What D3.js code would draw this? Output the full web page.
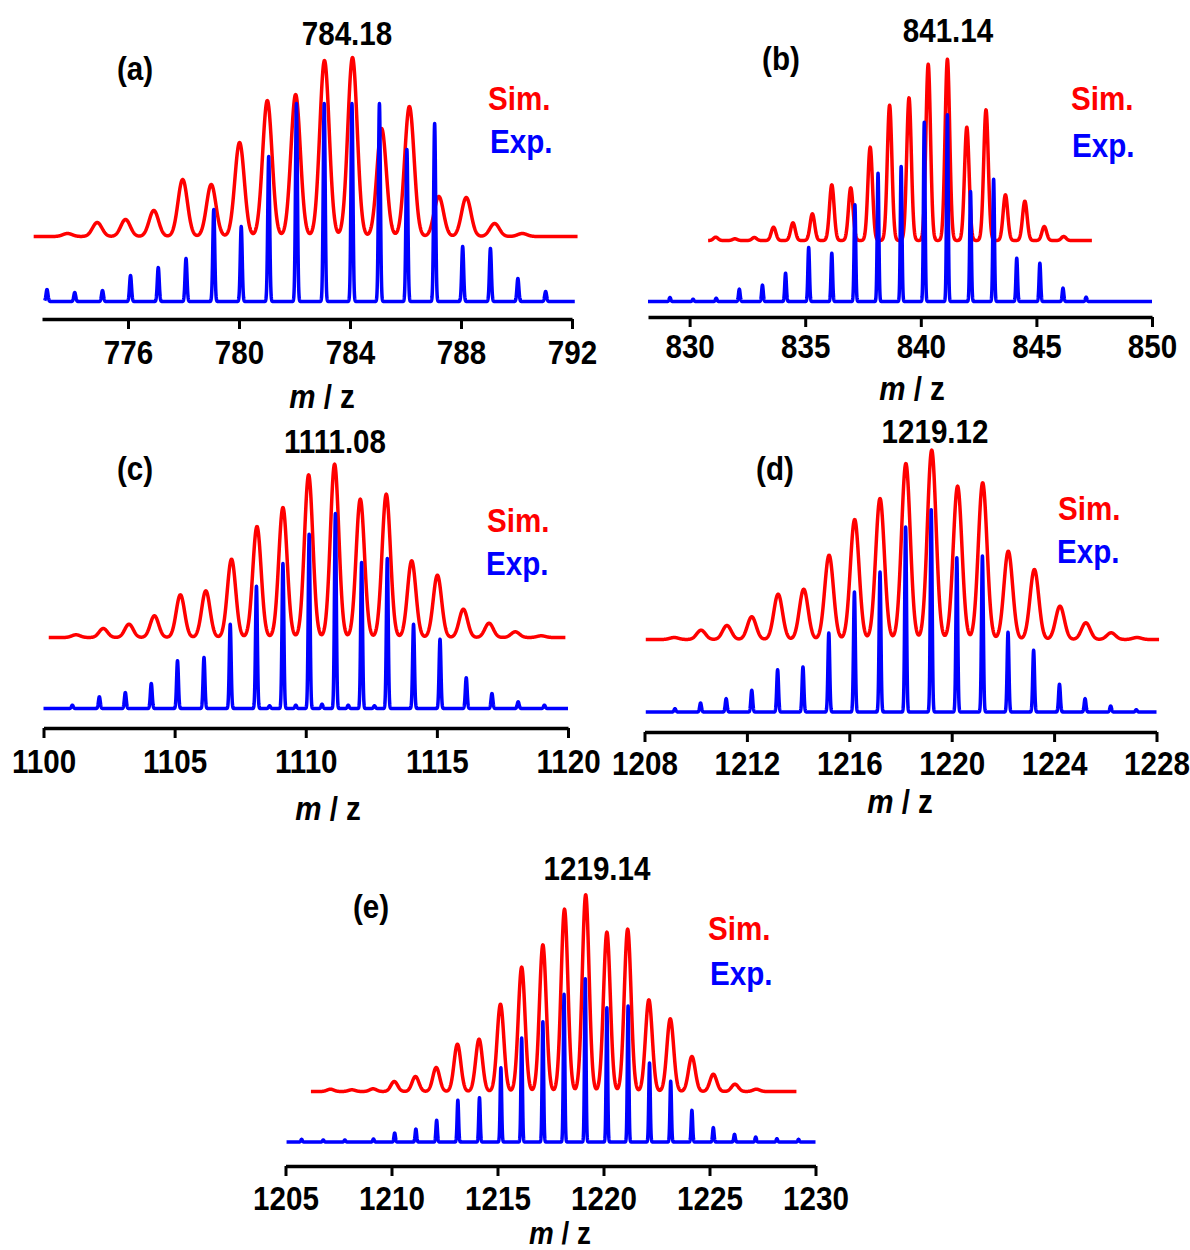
<!DOCTYPE html>
<html><head><meta charset="utf-8">
<script src="https://cdn.jsdelivr.net/npm/d3@7"></script>
<style>
body{margin:0;background:#fff;}
svg{display:block;}
text{font-family:"Liberation Sans",Arial,sans-serif;font-weight:bold;fill:#000;}
</style></head><body>
<svg id="chart" width="1190" height="1250"></svg>
<script>
// ---------------- data (m/z, relative intensity) ----------------
const titles = ["784.18", "841.14", "1111.08", "1219.12", "1219.14"];
const panelTags = ["(a)", "(b)", "(c)", "(d)", "(e)"];

const aTicks = [776, 780, 784, 788, 792];
const aExpMz  = [773.08,774.08,775.08,776.09,777.09,778.09,779.09,780.08,781.07,782.07,783.07,784.07,785.06,786.05,787.05,788.06,789.06,790.05,791.05];
const aExpInt = [12,9,11,26,34,43,92,75,145,198,198,198,198,152,178,55,53,23,10];
const aSimMz  = [773.82,774.89,775.91,776.93,777.97,779.0,780.02,781.02,782.04,783.08,784.09,785.14,786.14,787.2,788.19,789.21,790.21];
const aSimInt = [3,14,17,26,57,52,94,136,142,176,179,108,130,40,39,13,3];

const bTicks = [830, 835, 840, 845, 850];
const bExpMz  = [829.15,830.15,831.15,832.15,833.15,834.15,835.15,836.15,837.15,838.15,839.15,840.15,841.15,842.15,843.15,844.15,845.15,846.15,847.15];
const bExpInt = [4,2.3,3.3,12.3,16.3,28.3,54,48.3,96.7,128.3,135,179.3,186.7,110,122.3,43.3,38.3,13.3,4.3];
const bSimMz  = [831.13,831.96,832.8,833.63,834.47,835.31,836.15,836.97,837.81,838.65,839.49,840.32,841.15,841.99,842.82,843.66,844.5,845.34,846.18];
const bSimInt = [3.3,1.7,3,13.3,17.7,26.7,55.7,52.7,93.3,135.3,142.7,176.3,181.3,113.3,130.7,45.7,39.3,14,4];

const cTicks = [1100, 1105, 1110, 1115, 1120];
const cExpMz  = [1101.1,1102.13,1103.12,1104.11,1105.11,1106.12,1107.12,1108.12,1108.62,1109.13,1109.62,1110.13,1110.62,1111.13,1111.62,1112.13,1112.62,1113.11,1114.11,1115.12,1116.12,1117.1,1118.1,1119.1];
const cExpInt = [3.3,11.7,16,25,47.7,51,84.3,122.3,2.7,145,3.3,174.3,4.3,195,3.3,146,2.7,150,84.3,69.3,30.7,15,6.7,3.3];
const cSimMz  = [1101.24,1102.28,1103.26,1104.23,1105.22,1106.19,1107.17,1108.14,1109.13,1110.11,1111.1,1112.08,1113.07,1114.04,1115.02,1116.01,1116.99,1117.99,1118.98];
const cSimInt = [2.7,9,13.3,21.7,42.7,46.7,78.3,111,130,162.7,173.3,138.3,143.3,76.7,62.3,28.3,14.3,5.7,1.7];

const dTicks = [1208, 1212, 1216, 1220, 1224, 1228];
const dExpMz  = [1209.19,1210.19,1211.19,1212.19,1213.2,1214.19,1215.2,1216.2,1217.2,1218.2,1219.2,1220.2,1221.2,1222.2,1223.2,1224.21,1225.21,1226.21,1227.21];
const dExpInt = [3.3,9,13.3,21.7,42.3,45,79,120,140,185,202.3,154.3,156,79.7,61.7,27.7,13.3,6,2.3];
const dSimMz  = [1209.16,1210.21,1211.22,1212.19,1213.22,1214.22,1215.21,1216.21,1217.2,1218.21,1219.22,1220.23,1221.21,1222.21,1223.23,1224.23,1225.24,1226.23,1227.24];
const dSimInt = [2,9.3,14,22.7,45.3,50.3,84.3,120,141,176,189.3,153.3,156.7,88.3,70,33.3,16.7,6.7,2];

const eTicks = [1205, 1210, 1215, 1220, 1225, 1230];
const eExpMz  = [1205.76,1206.78,1207.8,1209.15,1210.15,1211.15,1212.13,1213.13,1214.15,1215.16,1216.14,1217.14,1218.14,1219.14,1220.16,1221.16,1222.17,1223.17,1224.17,1225.18,1226.18,1227.18,1228.18,1229.2];
const eExpInt = [2.7,2,2,3,9,13,21.7,41.7,44.3,74.3,104,120.3,147.7,163.3,134.3,136,79,60.7,31.7,14.3,7.7,5,3.3,2.7];
const eSimMz  = [1207.12,1208.13,1209.13,1210.13,1211.13,1212.11,1213.11,1214.13,1215.14,1216.14,1217.14,1218.16,1219.16,1220.16,1221.14,1222.14,1223.15,1224.17,1225.18,1226.2,1227.21];
const eSimInt = [2.3,1.7,2.7,10,15,24,47.3,52.3,87.3,124.3,146.7,182.3,196.7,159.3,162.3,91.7,72.7,35,17.3,7.3,2.3];

// ---------------- layout ----------------
const panels = [
  {tag:0, ticks:aTicks, exp:[aExpMz,aExpInt], sim:[aSimMz,aSimInt], domain:[772.9,792], range:[42,572], axisY:319, blueBase:301.5, redBase:236.5,
   blueExt:[773.0,792.1], redExt:[772.6,792.2], simSigma:0.17, title:[347,45], tagPos:[135,80], simPos:[488,110], expPos:[490,153], tickBase:364, xlab:[322,408], xlabFS:34},
  {tag:1, ticks:bTicks, exp:[bExpMz,bExpInt], sim:[bSimMz,bSimInt], domain:[828.2,850], range:[648,1152], axisY:317, blueBase:301.5, redBase:240.5,
   blueExt:[828.2,850], redExt:[830.8,847.4], simSigma:0.1, title:[948,42], tagPos:[781,70], simPos:[1071,110], expPos:[1072,157], tickBase:358, xlab:[912,400], xlabFS:34},
  {tag:2, ticks:cTicks, exp:[cExpMz,cExpInt], sim:[cSimMz,cSimInt], domain:[1100,1120], range:[43.5,568], axisY:728, blueBase:708.5, redBase:637.5,
   blueExt:[1100,1120], redExt:[1100.2,1119.9], simSigma:0.16, title:[335,453], tagPos:[135,480], simPos:[487,532], expPos:[486,575], tickBase:773, xlab:[328,820], xlabFS:34},
  {tag:3, ticks:dTicks, exp:[dExpMz,dExpInt], sim:[dSimMz,dSimInt], domain:[1208,1228], range:[644.5,1156.5], axisY:732, blueBase:712, redBase:639.5,
   blueExt:[1208.05,1228], redExt:[1208.05,1228.1], simSigma:0.17, title:[935,443], tagPos:[775,480], simPos:[1058,520], expPos:[1057,563], tickBase:775, xlab:[900,813], xlabFS:34},
  {tag:4, ticks:eTicks, exp:[eExpMz,eExpInt], sim:[eSimMz,eSimInt], domain:[1205,1230], range:[285.5,815.5], axisY:1166, blueBase:1142, redBase:1091.5,
   blueExt:[1205.05,1230], redExt:[1206.2,1229.1], simSigma:0.16, title:[597,880], tagPos:[371,918], simPos:[708,940], expPos:[710,985], tickBase:1210, xlab:[560,1244], xlabFS:32}
];

const svg = d3.select("#chart");
const FS = 34;
const SX = 0.87; // condensed look of the original typeface

function addText(g, x, y, str, anchor, color, fs) {
  return g.append("text")
    .attr("transform", `translate(${x},${y}) scale(${SX},1)`)
    .attr("text-anchor", anchor)
    .style("font-size", (fs || FS) + "px")
    .style("fill", color)
    .text(str);
}

// line profile from a peak list (Gaussian line shape)
function profile(mz, inten, sigma, ext, step) {
  const pts = [];
  for (let m = ext[0]; m <= ext[1] + 1e-9; m += step) {
    let v = 0;
    for (let i = 0; i < mz.length; i++) {
      const d = (m - mz[i]) / sigma;
      if (Math.abs(d) < 8) v += inten[i] * Math.exp(-0.5 * d * d);
    }
    pts.push([m, v]);
  }
  return pts;
}

panels.forEach(p => {
  const g = svg.append("g");
  const x = d3.scaleLinear().domain(p.domain).range(p.range);
  const yBlue = d3.scaleLinear().domain([0, 200]).range([p.blueBase, p.blueBase - 200]);
  const yRed = d3.scaleLinear().domain([0, 200]).range([p.redBase, p.redBase - 200]);

  // simulated (red)
  const simPts = profile(p.sim[0], p.sim[1], p.simSigma, p.redExt, 0.01);
  g.append("path").datum(simPts)
    .attr("d", d3.line().x(d => x(d[0])).y(d => yRed(d[1])))
    .attr("fill", "none").attr("stroke", "#ff0000").attr("stroke-width", 3.5).attr("stroke-linejoin", "round");

  // experimental (blue)
  const expPts = profile(p.exp[0], p.exp[1], 0.035, p.blueExt, 0.005);
  g.append("path").datum(expPts)
    .attr("d", d3.line().x(d => x(d[0])).y(d => yBlue(d[1])))
    .attr("fill", "none").attr("stroke", "#0000ff").attr("stroke-width", 3.5).attr("stroke-linejoin", "round");

  // axis
  const ax = g.append("g").attr("transform", `translate(0,${p.axisY})`)
    .call(d3.axisBottom(x).tickValues(p.ticks).tickFormat(d3.format("d")).tickSize(10).tickSizeOuter(0));
  ax.select(".domain").attr("stroke", "#000").attr("stroke-width", 3.5);
  ax.selectAll(".tick line").attr("stroke", "#000").attr("stroke-width", 3);
  ax.selectAll(".tick text").attr("y", null).attr("dy", null)
    .attr("transform", `translate(0,${p.tickBase - p.axisY}) scale(${SX},1)`)
    .style("font-size", FS + "px").style("font-family", "'Liberation Sans',Arial,sans-serif")
    .style("font-weight", "bold").attr("fill", "#000");

  // axis label m / z
  const xl = addText(g, p.xlab[0], p.xlab[1], null, "middle", "#000", p.xlabFS);
  xl.append("tspan").style("font-style", "italic").text("m");
  xl.append("tspan").text(" / z");

  // title, tag and legend texts
  addText(g, p.title[0], p.title[1], titles[p.tag], "middle", "#000");
  addText(g, p.tagPos[0], p.tagPos[1], panelTags[p.tag], "middle", "#000");
  addText(g, p.simPos[0], p.simPos[1], "Sim.", "start", "#ff0000");
  addText(g, p.expPos[0], p.expPos[1], "Exp.", "start", "#0000ff");
});
</script>
</body></html>
